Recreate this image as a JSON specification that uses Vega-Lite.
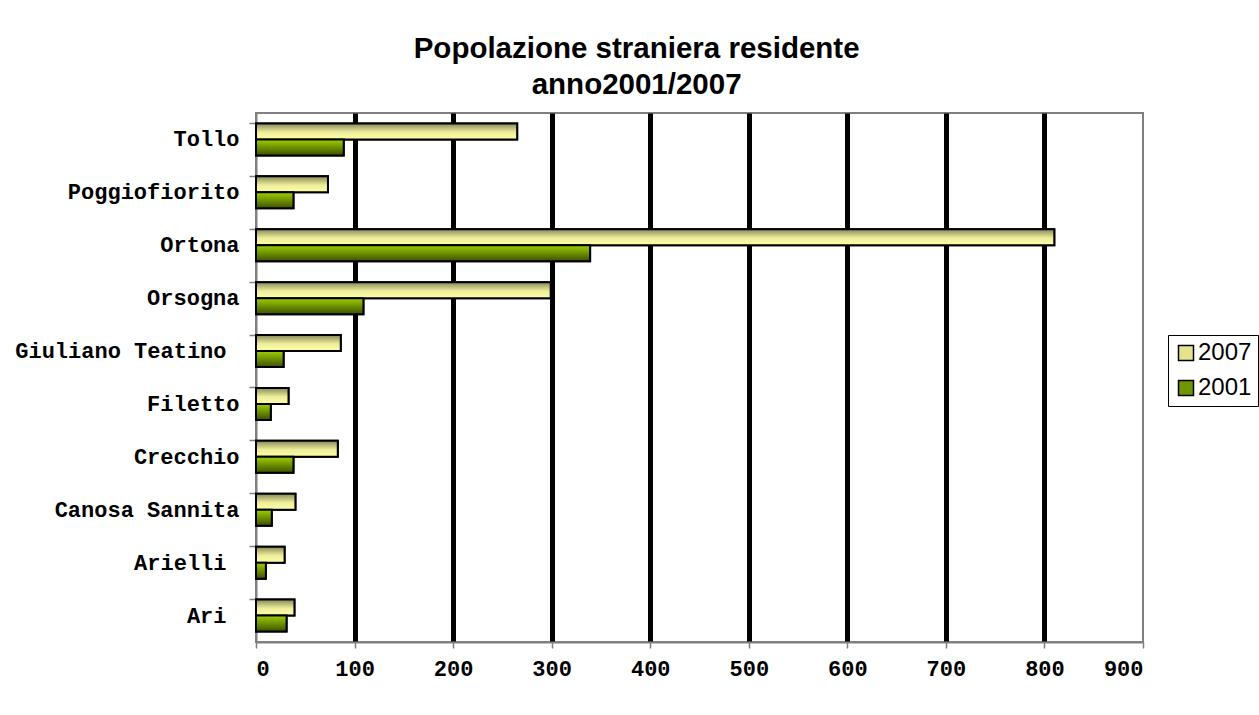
{
  "$schema": "https://vega.github.io/schema/vega-lite/v6.json",
  "width": 887,
  "height": 529,
  "padding": {"left": 14, "top": 33, "right": 0, "bottom": 10},
  "background": "white",
  "title": {
    "text": ["Popolazione straniera residente", "anno2001/2007"],
    "font": "Liberation Sans",
    "fontWeight": "bold",
    "fontSize": 29.5,
    "lineHeight": 36,
    "color": "black",
    "anchor": "middle",
    "frame": "bounds",
    "offset": 13
  },
  "data": {
    "values": [
      {"comune": "Tollo", "anno": "2007", "valore": 265},
      {"comune": "Tollo", "anno": "2001", "valore": 89},
      {"comune": "Poggiofiorito", "anno": "2007", "valore": 73},
      {"comune": "Poggiofiorito", "anno": "2001", "valore": 38},
      {"comune": "Ortona", "anno": "2007", "valore": 810},
      {"comune": "Ortona", "anno": "2001", "valore": 339},
      {"comune": "Orsogna", "anno": "2007", "valore": 299},
      {"comune": "Orsogna", "anno": "2001", "valore": 109},
      {"comune": "Giuliano Teatino", "anno": "2007", "valore": 86},
      {"comune": "Giuliano Teatino", "anno": "2001", "valore": 28},
      {"comune": "Filetto", "anno": "2007", "valore": 33},
      {"comune": "Filetto", "anno": "2001", "valore": 15},
      {"comune": "Crecchio", "anno": "2007", "valore": 83},
      {"comune": "Crecchio", "anno": "2001", "valore": 38},
      {"comune": "Canosa Sannita", "anno": "2007", "valore": 40},
      {"comune": "Canosa Sannita", "anno": "2001", "valore": 16},
      {"comune": "Arielli", "anno": "2007", "valore": 29},
      {"comune": "Arielli", "anno": "2001", "valore": 10},
      {"comune": "Ari", "anno": "2007", "valore": 39},
      {"comune": "Ari", "anno": "2001", "valore": 31}
    ]
  },
  "encoding": {
    "y": {
      "field": "comune",
      "type": "nominal",
      "sort": "descending",
      "scale": {"paddingInner": 0.395, "paddingOuter": 0.1975},
      "axis": {
        "title": null,
        "labelFont": "Liberation Mono",
        "labelFontWeight": "bold",
        "labelFontSize": 22,
        "labelColor": "black",
        "labelPadding": {"condition": {"test": "datum.value == 'Ari' || datum.value == 'Arielli' || datum.value == 'Giuliano Teatino'", "value": 23}, "value": 10},
        "labelLimit": 400,
        "tickSize": 7,
        "tickColor": "#808080",
        "tickWidth": 1.5,
        "bandPosition": 0,
        "domainColor": "#808080",
        "domainWidth": 2,
        "grid": false
      }
    },
    "yOffset": {"field": "anno", "type": "nominal", "sort": "descending", "scale": {"paddingInner": 0, "paddingOuter": 0}},
    "x": {
      "field": "valore",
      "type": "quantitative",
      "scale": {"domain": [0, 900], "nice": false},
      "axis": {
        "title": null,
        "values": [0, 100, 200, 300, 400, 500, 600, 700, 800, 900],
        "labelFont": "Liberation Mono",
        "labelFontWeight": "bold",
        "labelFontSize": 22,
        "labelColor": "black",
        "labelPadding": 10,
        "tickSize": 6,
        "tickColor": "#808080",
        "tickWidth": 1.5,
        "domainColor": "#808080",
        "domainWidth": 2,
        "grid": true,
        "gridColor": "black",
        "gridWidth": 5,
        "gridOpacity": {"condition": {"test": "datum.value == 0 || datum.value == 900", "value": 0}, "value": 1}
      }
    }
  },
  "layer": [
    {
      "mark": {"type": "bar", "stroke": "black", "strokeWidth": 2, "opacity": 1},
      "encoding": {
        "color": {
          "field": "anno",
          "type": "nominal",
          "scale": {"domain": ["2007", "2001"], "range": ["#e4e48e", "#6f9600"]},
          "legend": {
            "title": null,
            "orient": "none",
            "legendX": 912,
            "legendY": 222,
            "padding": 6,
            "strokeColor": "black",
            "fillColor": "white",
            "symbolType": "square",
            "symbolSize": 225,
            "symbolStrokeColor": "black",
            "symbolStrokeWidth": 1.5,
            "symbolOpacity": 1,
            "labelFont": "Liberation Sans",
            "labelFontSize": 24,
            "labelColor": "black",
            "labelOffset": 0,
            "rowPadding": 11
          }
        }
      }
    },
    {
      "transform": [{"filter": "datum.anno == '2007'"}],
      "mark": {
        "type": "bar", "stroke": "black", "strokeWidth": 2,
        "fill": {"gradient": "linear", "x1": 0, "y1": 0, "x2": 0, "y2": 1, "stops": [
          {"offset": 0, "color": "#88885a"},
          {"offset": 0.55, "color": "#eeee9a"},
          {"offset": 1, "color": "#ffffaa"}
        ]}
      }
    },
    {
      "transform": [{"filter": "datum.anno == '2001'"}],
      "mark": {
        "type": "bar", "stroke": "black", "strokeWidth": 2,
        "fill": {"gradient": "linear", "x1": 0, "y1": 0, "x2": 0, "y2": 1, "stops": [
          {"offset": 0, "color": "#9fd000"},
          {"offset": 1, "color": "#3c5000"}
        ]}
      }
    }
  ],
  "config": {
    "view": {"stroke": "#808080", "strokeWidth": 2}
  }
}
